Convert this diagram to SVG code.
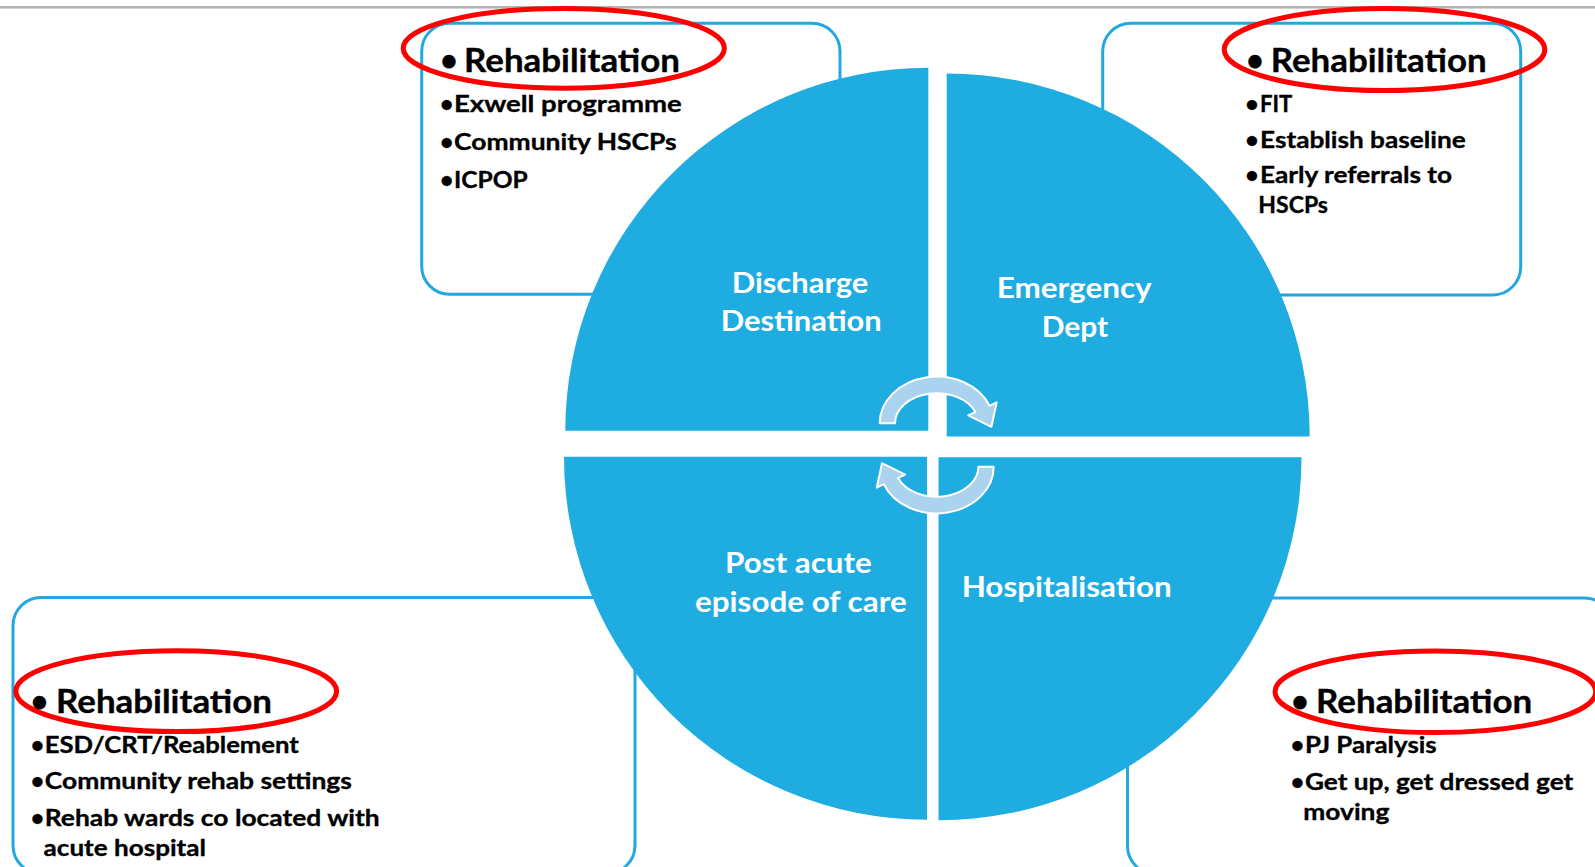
<svg xmlns="http://www.w3.org/2000/svg" width="1595" height="867" viewBox="0 0 1595 867">
  <style>
    .box { fill: #ffffff; stroke: #22A7E0; stroke-width: 3; }
    .ring { fill: none; stroke: #FF0000; stroke-width: 5; }
    .quad { fill: #1FACE1; }
    .arrow { fill: #ABD2EE; stroke: #ffffff; stroke-width: 2; stroke-linejoin: round; }
    .t { font-family: Lato, "Open Sans", "Liberation Sans", sans-serif; font-weight: 700; fill: #000000; stroke: #000000; stroke-width: 0.35px; }
    .h { font-size: 32px; }
    .b { font-size: 23.5px; }
    .bh { font-size: 30px; }
    .bb { font-size: 23px; }
    .w { font-family: Lato, "Open Sans", "Liberation Sans", sans-serif; font-weight: 700; fill: #ffffff; font-size: 29px; }
  </style>

  <rect width="1595" height="867" fill="#ffffff"/>
  <!-- header rule -->
  <line x1="0" y1="7" x2="1595" y2="7" stroke="#9a9a9a" stroke-width="1.5"/>
  <line x1="0" y1="8.5" x2="1595" y2="8.5" stroke="#d4d4d4" stroke-width="1"/>

  <!-- rehabilitation note boxes -->
  <g id="note-discharge">
    <rect class="box" x="421.7" y="23.3" width="418.3" height="271" rx="28"/>
  </g>
  <g id="note-emergency">
    <rect class="box" x="1102.7" y="23.3" width="418" height="271.7" rx="28"/>
  </g>
  <g id="note-postacute">
    <rect class="box" x="13" y="597.5" width="622" height="276" rx="28"/>
  </g>
  <g id="note-hospital">
    <rect class="box" x="1127.5" y="598" width="485" height="276" rx="28"/>
  </g>

  <!-- cycle quadrants -->
  <g id="q-discharge">
    <path class="quad" d="M 928.3 430.7 L 565.3 430.7 A 363 363 0 0 1 928.3 67.7 Z"/>
    <text class="w" x="731.7" y="293.3" textLength="136.6" lengthAdjust="spacingAndGlyphs">Discharge</text>
    <text class="w" x="720.7" y="331" textLength="161" lengthAdjust="spacingAndGlyphs">Destination</text>
  </g>
  <g id="q-emergency">
    <path class="quad" d="M 946.7 436.5 L 946.7 73.5 A 363 363 0 0 1 1309.7 436.5 Z"/>
    <text class="w" x="996.7" y="298.3" textLength="155" lengthAdjust="spacingAndGlyphs">Emergency</text>
    <text class="w" x="1041.7" y="336.7" textLength="66.6" lengthAdjust="spacingAndGlyphs">Dept</text>
  </g>
  <g id="q-hospital">
    <path class="quad" d="M 938.5 457.3 L 1301.5 457.3 A 363 363 0 0 1 938.5 820.3 Z"/>
    <text class="w" x="961.7" y="596.7" textLength="210" lengthAdjust="spacingAndGlyphs">Hospitalisation</text>
  </g>
  <g id="q-postacute">
    <path class="quad" d="M 927 456.7 L 927 819.7 A 363 363 0 0 1 564 456.7 Z"/>
    <text class="w" x="725" y="573.3" textLength="146.7" lengthAdjust="spacingAndGlyphs">Post acute</text>
    <text class="w" x="695" y="612.3" textLength="211.7" lengthAdjust="spacingAndGlyphs">episode of care</text>
  </g>

  <!-- cycle arrows -->
  <g id="connectors">
    <path id="arrow-top" class="arrow" d="M 879.7 423.3 A 57 46.7 0 0 1 989.55 405.8 L 996.7 402.4 L 991.4 426.8 L 968.2 415.4 L 975.4 412.05 A 41.7 30 0 0 0 895 423.3 Z"/>
    <path id="arrow-bottom" class="arrow" transform="rotate(180 936.7 445)" d="M 879.7 423.3 A 57 46.7 0 0 1 989.55 405.8 L 996.7 402.4 L 991.4 426.8 L 968.2 415.4 L 975.4 412.05 A 41.7 30 0 0 0 895 423.3 Z"/>
  </g>

  <!-- note contents -->
  <g id="note-discharge-text">
    <ellipse class="ring" cx="563.8" cy="48.3" rx="160.6" ry="39.9"/>
    <text class="t bh" x="449" y="71" text-anchor="middle">•</text>
    <text class="t h" x="464" y="72" textLength="216" lengthAdjust="spacingAndGlyphs">Rehabilitation</text>
    <text class="t bb" x="446.7" y="111.7" text-anchor="middle">•</text>
    <text class="t b" x="454" y="111.7" textLength="227.7" lengthAdjust="spacingAndGlyphs">Exwell programme</text>
    <text class="t bb" x="446.7" y="150" text-anchor="middle">•</text>
    <text class="t b" x="454" y="150" textLength="222.7" lengthAdjust="spacingAndGlyphs">Community HSCPs</text>
    <text class="t bb" x="446.7" y="188.3" text-anchor="middle">•</text>
    <text class="t b" x="454" y="188.3" textLength="73.7" lengthAdjust="spacingAndGlyphs">ICPOP</text>
  </g>
  <g id="note-emergency-text">
    <ellipse class="ring" cx="1384.5" cy="49.5" rx="160.3" ry="41"/>
    <text class="t bh" x="1255" y="71" text-anchor="middle">•</text>
    <text class="t h" x="1270.7" y="72" textLength="216" lengthAdjust="spacingAndGlyphs">Rehabilitation</text>
    <text class="t bb" x="1252" y="111.7" text-anchor="middle">•</text>
    <text class="t b" x="1260" y="111.7" textLength="32.3" lengthAdjust="spacingAndGlyphs">FIT</text>
    <text class="t bb" x="1252" y="147.7" text-anchor="middle">•</text>
    <text class="t b" x="1260" y="147.7" textLength="205.7" lengthAdjust="spacingAndGlyphs">Establish baseline</text>
    <text class="t bb" x="1252" y="183.3" text-anchor="middle">•</text>
    <text class="t b" x="1260" y="183.3" textLength="192" lengthAdjust="spacingAndGlyphs">Early referrals to</text>
    <text class="t b" x="1258.3" y="213.3" textLength="69.7" lengthAdjust="spacingAndGlyphs">HSCPs</text>
  </g>
  <g id="note-postacute-text">
    <ellipse class="ring" cx="176.2" cy="691.2" rx="160.4" ry="40.4"/>
    <text class="t bh" x="39.5" y="712.3" text-anchor="middle">•</text>
    <text class="t h" x="56" y="713.3" textLength="216" lengthAdjust="spacingAndGlyphs">Rehabilitation</text>
    <text class="t bb" x="37.5" y="753.3" text-anchor="middle">•</text>
    <text class="t b" x="44.8" y="753.3" textLength="254" lengthAdjust="spacingAndGlyphs">ESD/CRT/Reablement</text>
    <text class="t bb" x="37.5" y="789.3" text-anchor="middle">•</text>
    <text class="t b" x="44.8" y="789.3" textLength="307.1" lengthAdjust="spacingAndGlyphs">Community rehab settings</text>
    <text class="t bb" x="37.5" y="826" text-anchor="middle">•</text>
    <text class="t b" x="44.8" y="826" textLength="334.9" lengthAdjust="spacingAndGlyphs">Rehab wards co located with</text>
    <text class="t b" x="43.6" y="856" textLength="162.4" lengthAdjust="spacingAndGlyphs">acute hospital</text>
  </g>
  <g id="note-hospital-text">
    <ellipse class="ring" cx="1435.4" cy="691.7" rx="160.4" ry="40.8"/>
    <text class="t bh" x="1300" y="712.3" text-anchor="middle">•</text>
    <text class="t h" x="1316" y="713.3" textLength="216.3" lengthAdjust="spacingAndGlyphs">Rehabilitation</text>
    <text class="t bb" x="1297.5" y="753.3" text-anchor="middle">•</text>
    <text class="t b" x="1305" y="753.3" textLength="131.7" lengthAdjust="spacingAndGlyphs">PJ Paralysis</text>
    <text class="t bb" x="1297.5" y="790" text-anchor="middle">•</text>
    <text class="t b" x="1305" y="790" textLength="268.3" lengthAdjust="spacingAndGlyphs">Get up, get dressed get</text>
    <text class="t b" x="1303.3" y="820" textLength="86" lengthAdjust="spacingAndGlyphs">moving</text>
  </g>
</svg>
